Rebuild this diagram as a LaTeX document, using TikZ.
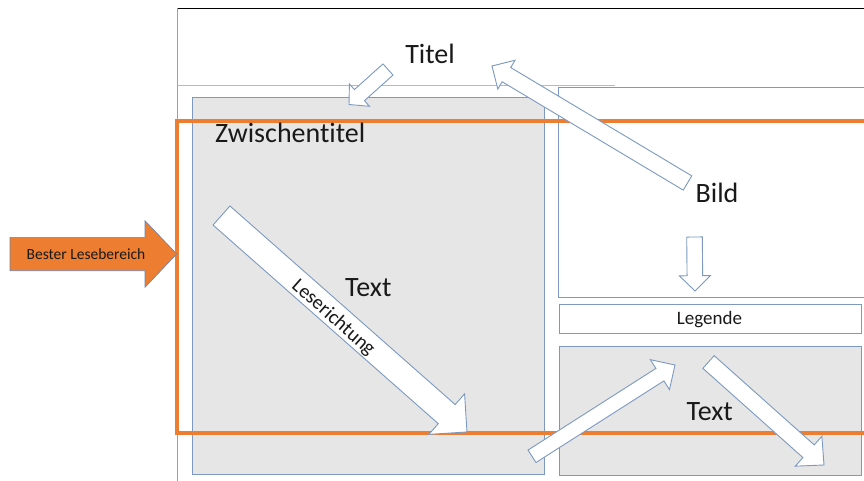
\documentclass[tikz,border=0pt]{standalone}
\usepackage{fontspec}
\setmainfont{Carlito}[Ligatures=CommonOff]
\definecolor{bordblue}{RGB}{124,153,192}
\definecolor{boxgrey}{RGB}{230,230,230}
\definecolor{orng}{RGB}{237,125,49}
\definecolor{arrline}{RGB}{108,132,168}
\definecolor{txt}{RGB}{25,25,25}
\newcommand{\blockarr}[7]{%
  \pgfmathsetmacro\baang{atan2(-(#4-#2),#3-#1)}%
  \pgfmathsetmacro\balen{veclen(#3-#1,#4-#2)}%
  \pgfmathsetmacro\babase{\balen-#7}%
  \begin{scope}[shift={(#1,#2)}, rotate=\baang]
    \draw[blockarrow] (0,-#5/2) -- (\babase,-#5/2) -- (\babase,-#6/2) -- (\balen,0)
      -- (\babase,#6/2) -- (\babase,#5/2) -- (0,#5/2) -- cycle;
  \end{scope}}
\begin{document}
\begin{tikzpicture}[x=1pt,y=-1pt,
  boxw/.style={draw=bordblue, line width=1pt, fill=white, inner sep=0pt, anchor=north west},
  boxg/.style={draw=bordblue, line width=1pt, fill=boxgrey, inner sep=0pt, anchor=north west},
  blockarrow/.style={draw=bordblue, line width=0.9pt, fill=white, line join=miter},
  big/.style={font=\fontsize{28}{30}\selectfont, text=txt, inner sep=0pt},
  mid/.style={font=\fontsize{19}{21}\selectfont, text=txt, inner sep=0pt},
]
\useasboundingbox (0,0) rectangle (864,481);
\clip (0,0) rectangle (864,481);
\fill[white] (0,0) rectangle (864,481);
% page frame
\draw[black, line width=1.5pt] (177,8.5) -- (870,8.5);
\draw[gray!75, line width=1pt] (177,8) -- (177,481);
\draw[gray!55, line width=1.3pt] (177,85.5) -- (615,85.5);
% boxes
\node[boxg, minimum width=352.5pt, minimum height=377pt] (leftbox) at (191.5,97) {};
\node[boxw, minimum width=320pt, minimum height=210pt] (bildbox) at (558,87) {};
\node[boxw, minimum width=301.5pt, minimum height=29.5pt] (legbox) at (559,303.5) {};
\node[boxg, minimum width=302pt, minimum height=129.5pt] (lowbox) at (559,345.5) {};
% best reading area
\draw[orng, line width=3.6pt] (177,121) rectangle (880,433);
\draw[fill=orng, draw=arrline, line width=0.6pt] (10,237.3) -- (145,237.3) -- (145,220.7) -- (176.7,254)
  -- (145,287.3) -- (145,270.7) -- (10,270.7) -- cycle;
\node[font=\fontsize{15.5}{17}\selectfont, text=txt, inner sep=0pt, anchor=base] (bester) at (86,259) {Bester Lesebereich};
% texts
\node[big, anchor=base] (titel) at (430,63.3) {Titel};
\node[big, anchor=base west] (zwt) at (215,142.7) {Zwischentitel};
\node[big, anchor=base] (text1) at (368.3,296) {Text};
\node[big, anchor=base] (bild) at (717,202.7) {Bild};
\node[big, anchor=base] (text2) at (709.7,420.7) {Text};
\node[mid, anchor=base] (legende) at (709.5,324.3) {Legende};
% block arrows
\blockarr{388}{69.5}{349}{104.5}{15}{30}{14}
\blockarr{687.5}{183}{492}{66}{16.6}{33.6}{16.8}
\blockarr{221.5}{215.5}{467}{432}{25.5}{54}{27}
\blockarr{694.5}{237}{695}{291}{15.6}{31}{15.3}
\blockarr{532}{456.3}{675}{365}{14.8}{35.5}{17.9}
\blockarr{708.5}{362}{824}{465}{17}{40}{20.7}
\node[font=\fontsize{20}{22}\selectfont, text=txt, inner sep=0pt, rotate=-41.4] (leser) at (333.3,318) {Leserichtung};
\end{tikzpicture}
\end{document}
